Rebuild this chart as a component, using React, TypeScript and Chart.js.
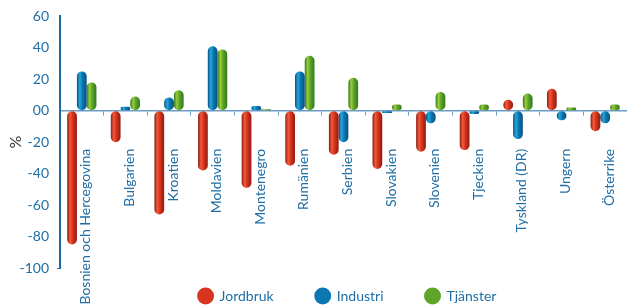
import React, { useEffect, useRef } from "react";
import { Chart, registerables } from "chart.js";

Chart.register(...registerables);

const categories = [
  "Bosnien och Hercegovina",
  "Bulgarien",
  "Kroatien",
  "Moldavien",
  "Montenegro",
  "Rumänien",
  "Serbien",
  "Slovakien",
  "Slovenien",
  "Tjeckien",
  "Tyskland (DR)",
  "Ungern",
  "Österrike",
];
const jordbruk = [-85, -20, -66, -38, -49, -35, -28, -37, -26, -25, 7, 14, -13];
const industri = [25, 2.5, 8.5, 41, 3, 25, -20, -1.5, -8, -2, -18, -6, -8];
const tjanster = [18, 9, 13, 39, 1, 35, 21, 4, 12, 4, 11, 2, 4];
const seriesNames = ["Jordbruk", "Industri", "Tjänster"];
const yMin = -100;
const yMax = 60;
const yStep = 20;
const zeroTickLabel = "00";

const TEXT_BLUE = "#1f6ea6";
const FONT = "Lato, 'Open Sans', sans-serif";

const palettes = [
  { dark: "#8e1a10", light: "#f05a3a", mid: "#d8351e" },
  { dark: "#07507e", light: "#27a7dc", mid: "#0b78b4" },
  { dark: "#2f7a1c", light: "#9ccd3a", mid: "#5ea52a" },
];

const CAT_PCT = 0.67;
const BAR_PCT = 1.0;

function barFill(ctx: any) {
  const p = palettes[ctx.datasetIndex];
  const chart = ctx.chart;
  const xScale = chart.scales && chart.scales.x;
  if (ctx.type !== "data" || !xScale || !chart.chartArea) return p.mid;
  const catW = xScale.width / categories.length;
  const w = (catW * CAT_PCT * BAR_PCT) / 3;
  const c = xScale.getPixelForValue(ctx.dataIndex) + (ctx.datasetIndex - 1) * w;
  const g = chart.ctx.createLinearGradient(c - w / 2, 0, c + w / 2, 0);
  g.addColorStop(0, p.dark);
  g.addColorStop(0.3, p.light);
  g.addColorStop(0.55, p.mid);
  g.addColorStop(1, p.dark);
  return g;
}

const layoutTweak = {
  id: "layoutTweak",
  afterLayout(chart: any) {
    const l = chart.legend;
    if (l) {
      l.top += 7;
      l.bottom += 7;
      l.left += 34;
      l.right += 34;
    }
    const x = chart.scales.x;
    if (x) {
      x._labelItems = null;
    }
  },
};

export default function App() {
  const ref = useRef<HTMLCanvasElement | null>(null);
  useEffect(() => {
    if (!ref.current) return;
    const chart = new Chart(ref.current, {
      type: "bar",
      plugins: [layoutTweak],
      data: {
        labels: categories,
        datasets: [jordbruk, industri, tjanster].map((d, i) => ({
          label: seriesNames[i],
          data: d,
          backgroundColor: barFill,
          borderWidth: 0,
          borderRadius: 6,
          borderSkipped: false,
          categoryPercentage: CAT_PCT,
          barPercentage: BAR_PCT,
        })),
      },
      options: {
        animation: false,
        responsive: true,
        maintainAspectRatio: false,
        layout: { padding: { top: 16, left: 0, right: 0, bottom: 0 } },
        plugins: {
          tooltip: { enabled: false },
          legend: {
            position: "bottom",
            labels: {
              usePointStyle: true,
              pointStyle: "circle",
              boxHeight: 12,
              padding: 14,
              color: TEXT_BLUE,
              font: { family: FONT, size: 14 },
              generateLabels: () =>
                seriesNames.map((n, i) => ({
                  text: i < seriesNames.length - 1 ? n + "\u2003\u2003\u2002" : n,
                  fillStyle: palettes[i].mid,
                  strokeStyle: palettes[i].mid,
                  lineWidth: 0,
                  pointStyle: "circle",
                  datasetIndex: i,
                  fontColor: TEXT_BLUE,
                })),
            },
          },
        },
        scales: {
          x: {
            position: { y: 0 } as any,
            grid: {
              display: true,
              drawOnChartArea: false,
              drawTicks: true,
              tickLength: 4,
              tickColor: "#6b9cc6",
              offset: true,
            },
            border: { display: true, color: "#6b9cc6", width: 1.5 },
            ticks: {
              autoSkip: false,
              minRotation: 90,
              maxRotation: 90,
              padding: 34,
              labelOffset: 4,
              color: TEXT_BLUE,
              font: { family: FONT, size: 14 },
            },
            afterFit: (s: any) => {
              s.height = 0;
              s.paddingLeft = 0;
              s.paddingRight = 0;
            },
          },
          y: {
            min: yMin,
            max: yMax,
            grid: {
              display: true,
              drawOnChartArea: false,
              drawTicks: true,
              tickLength: 3,
              tickColor: (c: any) => (c.tick && c.tick.value === yMin ? "#1b6aa0" : "rgba(0,0,0,0)"),
            },
            border: { display: true, color: "#1b6aa0", width: 2 },
            ticks: {
              stepSize: yStep,
              padding: 8,
              color: TEXT_BLUE,
              font: { family: FONT, size: 14 },
              callback: (v: any) => (Number(v) === 0 ? zeroTickLabel : String(v)),
            },
            title: {
              display: true,
              text: "%",
              color: "#333333",
              padding: { top: 6, bottom: 0 },
              font: { family: FONT, size: 16 },
            },
            afterFit: (s: any) => {
              s.width = 60;
            },
          },
        },
      },
    });
    return () => chart.destroy();
  }, []);
  return (
    <div style={{ position: "absolute", left: 0, top: 0, width: 627, height: 306 }}>
      <canvas ref={ref} />
    </div>
  );
}
